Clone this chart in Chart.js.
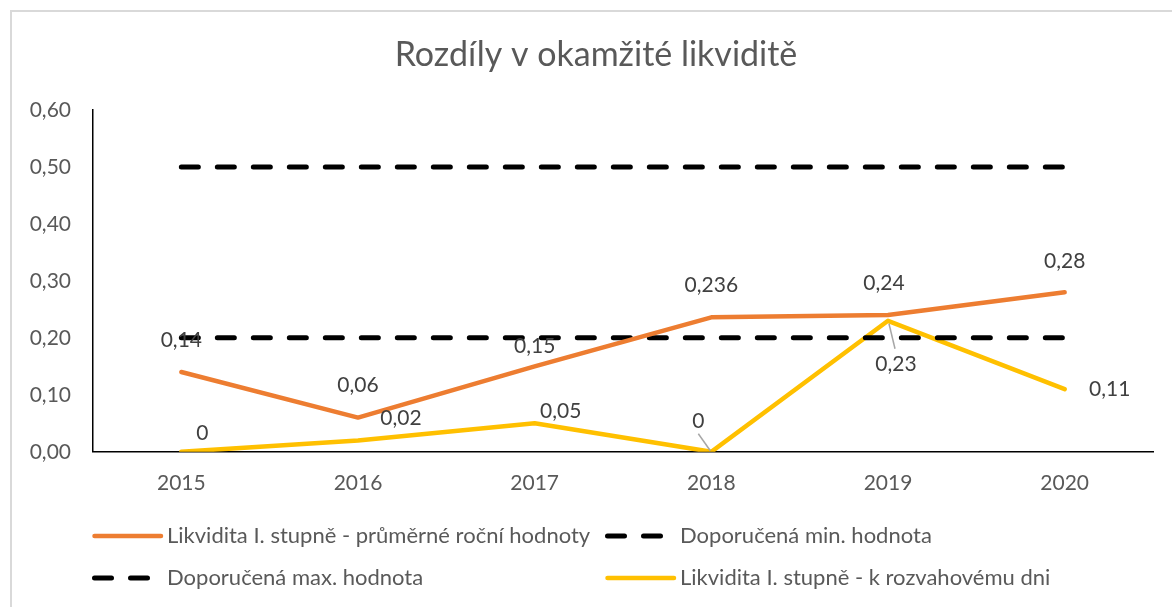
<!DOCTYPE html>
<html>
<head>
<meta charset="utf-8">
<script src="https://cdn.jsdelivr.net/npm/chart.js@4/dist/chart.umd.min.js"></script>
<style>
  html, body { margin: 0; padding: 0; background: #fff; }
  #wrap { position: relative; width: 1172px; height: 607px; overflow: hidden; }
  #frame { position: absolute; left: 10px; top: 10px; width: 1200px; height: 700px; border: 2px solid #d9d9d9; box-sizing: border-box; }
  canvas { position: absolute; left: 0; top: 0; }
</style>
</head>
<body>
<div id="wrap">
  <div id="frame"></div>
  <canvas id="myChart" width="1172" height="607"></canvas>
</div>
<script>
const chartTitle = 'Rozdíly v okamžité likviditě';
const years = ['2015', '2016', '2017', '2018', '2019', '2020'];
const prumerne = [0.14, 0.06, 0.15, 0.236, 0.24, 0.28];
const rozvahovy = [0, 0.02, 0.05, 0, 0.23, 0.11];
const doporMin = [0.2, 0.2, 0.2, 0.2, 0.2, 0.2];
const doporMax = [0.5, 0.5, 0.5, 0.5, 0.5, 0.5];
const yTicks = [0, 0.1, 0.2, 0.3, 0.4, 0.5, 0.6];

// where Excel put the data labels, relative to the point (px)
const prumerneLabelPos = [[0, -32], [0, -32], [0, -20], [0, -32], [-4, -32], [0, -31]];
const rozvahovyLabelPos = [[21, -19], [43, -22], [26, -12], [-13, -31], [8, 43], [45, 0]];
const rozvahovyLeader = [false, false, false, true, true, false];

const FONT = 'Lato, "Open Sans", sans-serif';
const fmt = v => String(v).replace('.', ',');

// title is centred on the whole chart frame, not on the plot, so draw it here
const titlePlugin = {
  id: 'titlePlugin',
  afterDraw(chart) {
    const ctx = chart.ctx;
    ctx.save();
    ctx.fillStyle = '#595959';
    ctx.font = '34px ' + FONT;
    ctx.textAlign = 'center';
    ctx.textBaseline = 'middle';
    ctx.fillText(chartTitle, 596, 55);
    ctx.restore();
  }
};

const dataLabels = {
  id: 'dataLabels',
  afterDatasetsDraw(chart) {
    const ctx = chart.ctx;
    chart.data.datasets.forEach((ds, i) => {
      if (!ds.labelPos) return;
      const meta = chart.getDatasetMeta(i);
      meta.data.forEach((pt, j) => {
        const [dx, dy] = ds.labelPos[j];
        const lx = pt.x + dx, ly = pt.y + dy;
        ctx.save();
        if (ds.leader && ds.leader[j]) {
          ctx.strokeStyle = '#a6a6a6';
          ctx.lineWidth = 1.5;
          ctx.beginPath();
          if (dy < 0) {
            ctx.moveTo(lx, ly + 13);
            ctx.lineTo(pt.x - 1, pt.y - 1);
          } else {
            ctx.moveTo(pt.x + 1, pt.y + 3);
            ctx.lineTo(lx - 1, ly - 15);
          }
          ctx.stroke();
        }
        ctx.fillStyle = '#404040';
        ctx.font = '21px ' + FONT;
        ctx.textAlign = 'center';
        ctx.textBaseline = 'middle';
        ctx.fillText(fmt(ds.data[j]), lx, ly);
        ctx.restore();
      });
    });
  }
};

const legendGrid = {
  id: 'legendGrid',
  afterDraw(chart) {
    const ctx = chart.ctx;
    const cols = [92, 605], rows = [536, 578];
    chart.data.datasets.forEach((ds, i) => {
      const x0 = cols[i % 2], y = rows[Math.floor(i / 2)];
      ctx.save();
      ctx.strokeStyle = ds.borderColor;
      ctx.lineWidth = ds.borderWidth;
      ctx.lineCap = 'round';
      ctx.setLineDash(ds.borderDash || []);
      ctx.beginPath();
      ctx.moveTo(x0 + 2.5, y);
      ctx.lineTo(x0 + 69, y);
      ctx.stroke();
      ctx.setLineDash([]);
      ctx.fillStyle = '#595959';
      ctx.font = '22px ' + FONT;
      ctx.textAlign = 'left';
      ctx.textBaseline = 'middle';
      ctx.fillText(ds.label, x0 + 75, y);
      ctx.restore();
    });
  }
};

new Chart(document.getElementById('myChart'), {
  type: 'line',
  data: {
    labels: years,
    datasets: [
      {
        label: 'Likvidita I. stupně - průměrné roční hodnoty',
        data: prumerne,
        borderColor: '#ED7D31',
        borderWidth: 4.5,
        labelPos: prumerneLabelPos
      },
      {
        label: 'Doporučená min. hodnota',
        data: doporMin,
        borderColor: '#000000',
        borderWidth: 5,
        borderDash: [17, 19]
      },
      {
        label: 'Doporučená max. hodnota',
        data: doporMax,
        borderColor: '#000000',
        borderWidth: 5,
        borderDash: [17, 19]
      },
      {
        label: 'Likvidita I. stupně - k rozvahovému dni',
        data: rozvahovy,
        borderColor: '#FFC000',
        borderWidth: 4.5,
        labelPos: rozvahovyLabelPos,
        leader: rozvahovyLeader
      }
    ]
  },
  options: {
    responsive: false,
    animation: false,
    devicePixelRatio: 1,
    elements: {
      point: { radius: 0, hoverRadius: 0 },
      line: { tension: 0, borderCapStyle: 'round', borderJoinStyle: 'round', fill: false }
    },
    layout: { padding: { left: 0, right: 19, top: 110, bottom: 92 } },
    plugins: {
      legend: { display: false },
      tooltip: { enabled: false },
      title: { display: false }
    },
    scales: {
      x: {
        offset: true,
        grid: { display: false, drawTicks: false },
        border: { display: true, color: '#000000', width: 1.5 },
        ticks: { color: '#595959', font: { family: FONT, size: 21 }, padding: 19 }
      },
      y: {
        min: 0,
        max: 0.6,
        afterFit(scale) { scale.width = 93; },
        afterBuildTicks(scale) { scale.ticks = yTicks.map(v => ({ value: v })); },
        grid: { display: false, drawTicks: false },
        border: { display: true, color: '#000000', width: 1.5 },
        ticks: {
          color: '#595959',
          font: { family: FONT, size: 21 },
          padding: 22,
          callback: v => v.toFixed(2).replace('.', ',')
        }
      }
    }
  },
  plugins: [dataLabels, legendGrid, titlePlugin]
});
</script>
</body>
</html>
